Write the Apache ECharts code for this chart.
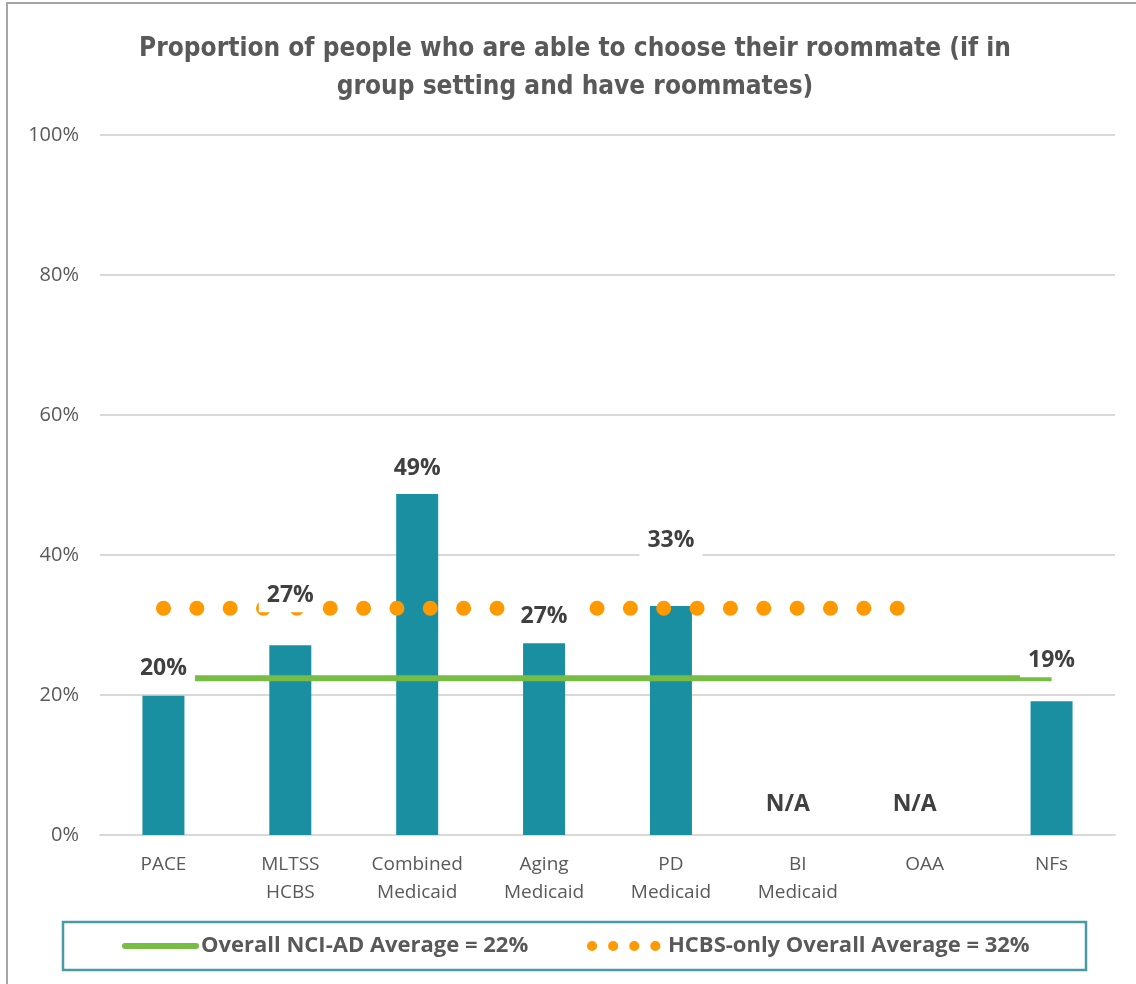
<!DOCTYPE html>
<html><head><meta charset="utf-8">
<script src="https://cdn.jsdelivr.net/npm/echarts@6/dist/echarts.min.js"></script>
<style>html,body{margin:0;padding:0;background:#fff}#c{width:1136px;height:984px}</style>
</head><body><div id="c"></div>
<script>
// ---- data ----
const categories = ['PACE', 'MLTSS\nHCBS', 'Combined\nMedicaid', 'Aging\nMedicaid', 'PD\nMedicaid', 'BI\nMedicaid', 'OAA', 'NFs'];
const values = [19.9, 27.1, 48.7, 27.4, 32.7, null, null, 19.1];
const overallName = 'Overall NCI-AD Average = 22%';
const overallAvg = 22.4;
const overallLastIndex = 7;
const hcbsName = 'HCBS-only Overall Average = 32%';
const hcbsAvg = 32.4;
const hcbsLastIndex = 6;
const yTicks = [0, 20, 40, 60, 80, 100];
const titleText = 'Proportion of people who are able to choose their roommate (if in\ngroup setting and have roommates)';

// ---- style helpers (label nudges in px) ----
const labelNudge = [[0, -5], [0, -28], [0, -4], [0, -5], [0, -44], [-10, -9], [-10, -9], [0, -19]];

const overallData = categories.map((c, i) => i <= overallLastIndex ? overallAvg : null);
const hcbsData = categories.map((c, i) => i <= hcbsLastIndex ? hcbsAvg : null);
const labelData = values.map((v, i) => ({
  value: v == null ? 0 : v,
  label: { offset: labelNudge[i] }
}));

const grey = '#595959';
const chart = echarts.init(document.getElementById('c'), null, { renderer: 'canvas' });
chart.setOption({
  animation: false,
  backgroundColor: '#ffffff',
  graphic: [{
    type: 'rect', z: -10, silent: true,
    shape: { x: 7, y: 3, width: 1200, height: 1100 },
    style: { fill: 'none', stroke: '#a6a6a6', lineWidth: 2 }
  }, {
    type: 'text', silent: true, x: 575, y: 30,
    style: {
      text: titleText, textAlign: 'center', textVerticalAlign: 'top',
      fontFamily: '"DejaVu Sans Condensed", sans-serif', fontWeight: 'bold',
      fontSize: 26, lineHeight: 38, fill: grey
    }
  }],
  grid: { left: 100, right: 21, top: 135, bottom: 149 },
  xAxis: {
    type: 'category',
    data: categories,
    axisLine: { lineStyle: { color: '#d9d9d9', width: 2 } },
    axisTick: { show: false },
    axisLabel: {
      interval: 0, margin: 16, fontFamily: '"Open Sans", sans-serif',
      fontSize: 19, lineHeight: 28, color: grey
    }
  },
  yAxis: {
    type: 'value', min: yTicks[0], max: yTicks[yTicks.length - 1], interval: yTicks[1] - yTicks[0],
    axisLine: { show: false }, axisTick: { show: false },
    axisLabel: { formatter: '{value}%', margin: 21, fontFamily: '"Open Sans", sans-serif', fontSize: 20, color: grey },
    splitLine: { lineStyle: { color: '#d9d9d9', width: 2 } }
  },
  legend: {
    left: 63, top: 922,
    padding: [11, 50, 11, 59],
    itemGap: 53, itemWidth: 71, itemHeight: 14,
    borderColor: '#4a9aa5', borderWidth: 2.5,
    selectedMode: false,
    textStyle: { fontFamily: '"Open Sans", sans-serif', fontWeight: 'bold', fontSize: 22, lineHeight: 26, color: grey },
    data: [
      { name: overallName, itemStyle: { opacity: 0 }, lineStyle: { width: 6, type: 'solid', cap: 'round' }, textStyle: { width: 333 } },
      { name: hcbsName, itemStyle: { opacity: 0 }, lineStyle: { width: 10, type: [0.1, 21], cap: 'round' }, textStyle: { width: 368 } }
    ]
  },
  series: [
    {
      name: 'values', type: 'bar', z: 1, barWidth: 42, barGap: '-100%',
      data: values,
      itemStyle: { color: '#1b8fa2' }
    },
    {
      name: overallName, type: 'line', z: 2, symbol: 'none', silent: true,
      data: overallData,
      lineStyle: { color: '#77bc43', width: 6 },
      itemStyle: { color: '#77bc43' }
    },
    {
      name: hcbsName, type: 'line', z: 2, symbol: 'none', silent: true,
      data: hcbsData,
      lineStyle: { color: '#ff9900', width: 15, type: [0.1, 33.25], cap: 'round' },
      itemStyle: { color: '#ff9900' }
    },
    {
      name: 'labels', type: 'bar', z: 3, barWidth: 42, barGap: '-100%', silent: true,
      data: labelData,
      itemStyle: { color: 'rgba(0,0,0,0)' },
      label: {
        show: true, position: 'top', distance: 5,
        formatter: p => values[p.dataIndex] == null ? 'N/A' : Math.round(values[p.dataIndex]) + '%',
        fontFamily: '"Open Sans", sans-serif', fontWeight: 'bold', fontSize: 23, lineHeight: 26,
        color: '#404040', backgroundColor: '#ffffff', padding: [4, 8, 4, 8]
      }
    }
  ]
});
</script></body></html>
